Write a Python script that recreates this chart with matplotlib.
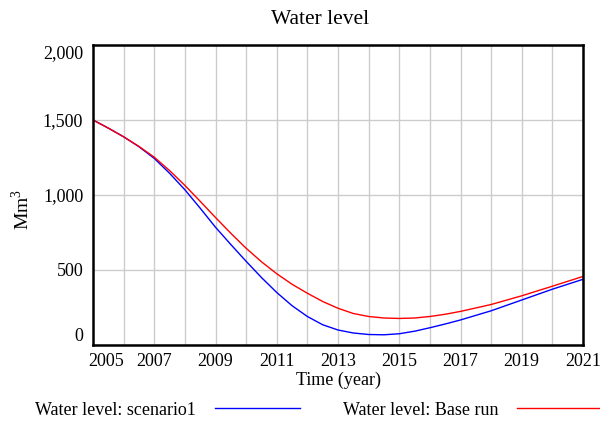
import numpy as np
import matplotlib
matplotlib.use('Agg')
import matplotlib.pyplot as plt
import matplotlib.transforms as mtrans

plt.rcParams['font.family'] = ['Liberation Serif', 'DejaVu Serif']
plt.rcParams['mathtext.fontset'] = 'custom'
plt.rcParams['mathtext.rm'] = 'Liberation Serif'

# values (Mm3)
years = [2005, 2005.5, 2006, 2006.5, 2007, 2007.5, 2008, 2008.5, 2009, 2009.5,
         2010, 2010.5, 2011, 2011.5, 2012, 2012.5, 2013, 2013.5, 2014, 2014.5,
         2015, 2015.5, 2016, 2016.5, 2017, 2018, 2019, 2020, 2021]
scenario1 = [1500, 1446, 1388, 1322, 1244, 1145, 1035, 912, 785, 670,
             558, 450, 350, 262, 190, 135, 100, 80, 70, 68,
             75, 92, 115, 140, 167, 228, 300, 372, 438]
base_run = [1500, 1446, 1388, 1324, 1252, 1163, 1064, 958, 850, 745,
            645, 555, 475, 405, 345, 290, 245, 210, 190, 180,
            177, 180, 190, 205, 224, 270, 328, 392, 457]

xticks = list(range(2005, 2022, 2))
yticks = [0, 500, 1000, 1500, 2000]
ytick_labels = ['0', '500', '1,000', '1,500', '2,000']

fig = plt.figure(figsize=(6.0, 4.23), dpi=100)
ax = fig.add_axes([93/600, 1-345/423, 490/600, 300/423])

l1, = ax.plot(years, scenario1, color='#0000ff', lw=1.0, label='Water level: scenario1')
l2, = ax.plot(years, base_run, color='#ff0000', lw=1.0, label='Water level: Base run')

ax.set_xlim(2005, 2021)
ax.set_ylim(0, 2000)
ax.set_xticks(range(2005, 2022), minor=True)
ax.set_xticks(xticks)
ax.set_xticklabels([str(t) for t in xticks])
ax.set_yticks(yticks)
ax.set_yticklabels(ytick_labels)
ax.grid(True, which='both', axis='x', color='#cccccc', lw=1.0)
ax.grid(True, which='major', axis='y', color='#cccccc', lw=1.0)
ax.set_axisbelow(True)
ax.tick_params(which='both', length=0, labelsize=13)
ax.tick_params(axis='x', pad=6)
ax.tick_params(axis='y', pad=7)
for s in ax.spines.values():
    s.set_linewidth(1.8)
    s.set_color('black')

# edge tick labels pushed inward like the original
ylabs = ax.get_yticklabels()
ylabs[0].set_va('bottom')
ylabs[-1].set_va('top')
xlabs = ax.get_xticklabels()
xlabs[0].set_ha('left')
xlabs[0].set_transform(xlabs[0].get_transform() +
                       mtrans.ScaledTranslation(-5/100, 0, fig.dpi_scale_trans))

ax.set_xlabel('Time (year)', fontsize=13, labelpad=1)
ax.set_ylabel('Mm$^{3}$', fontsize=14)
ax.yaxis.set_label_coords(-0.122, 0.45)
fig.text(320/600, 1-20/423, 'Water level', fontsize=15.5, ha='center', va='center')

fig.legend(handles=[l1, l2], loc='center left', bbox_to_anchor=(35/600, 1-410/423),
           ncol=2, markerfirst=False, frameon=False, fontsize=13,
           handlelength=4.7, handletextpad=1.05, columnspacing=2.4,
           borderpad=0, borderaxespad=0)

fig.savefig('out.png', dpi=100)
